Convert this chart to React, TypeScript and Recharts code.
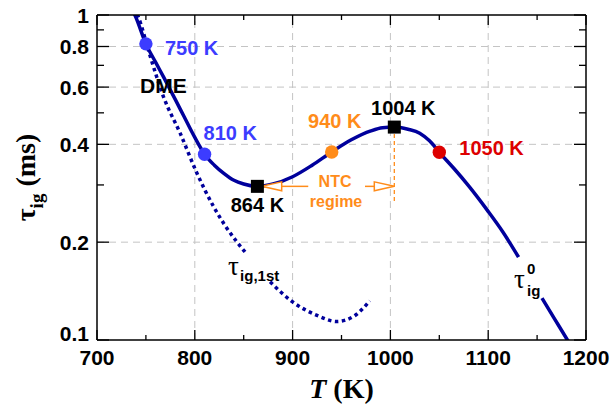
import React from 'react';
import {
  ComposedChart,
  Line,
  XAxis,
  YAxis,
  ReferenceDot,
  ReferenceLine,
} from 'recharts';

// ---------- data ----------
const mainUpperT = [735, 740, 750, 760, 768, 780, 789, 800, 810, 820, 830, 840, 850, 864, 880, 900, 920, 940, 960, 980, 992, 1004, 1018, 1030, 1040, 1050, 1065, 1080, 1099, 1115, 1131];
const mainUpperTau = [1.06, 0.98, 0.815, 0.715, 0.645, 0.55, 0.487, 0.42, 0.373, 0.345, 0.325, 0.31, 0.302, 0.297, 0.302, 0.318, 0.345, 0.379, 0.413, 0.44, 0.45, 0.452, 0.445, 0.433, 0.41, 0.378, 0.337, 0.298, 0.251, 0.215, 0.18];
const mainLowerT = [1155, 1168, 1181, 1186];
const mainLowerTau = [0.1346, 0.116, 0.1, 0.0945];

const firstUpperT = [738, 742, 754.5, 768, 785, 802, 819, 831, 853];
const firstUpperTau = [1.05, 0.99, 0.745, 0.56, 0.433, 0.327, 0.258, 0.225, 0.184];
const firstLowerT = [877, 900, 925, 945, 962, 979];
const firstLowerTau = [0.151, 0.131, 0.119, 0.114, 0.118, 0.132];

const markerT = [750, 810, 864, 940, 1004, 1050];
const markerTau = [0.815, 0.373, 0.297, 0.379, 0.452, 0.378];
const markerLabels = ['750 K', '810 K', '864 K', '940 K', '1004 K', '1050 K'];

const xTicks = [700, 750, 800, 850, 900, 950, 1000, 1050, 1100, 1150, 1200];
const xMajor = [700, 800, 900, 1000, 1100, 1200];
const yTicks = [0.1, 0.2, 0.3, 0.4, 0.5, 0.6, 0.7, 0.8, 0.9, 1];
const yLabels = [0.1, 0.2, 0.4, 0.6, 0.8, 1];
const gridX = [800, 900, 1000, 1100];
const gridY = [0.2, 0.4, 0.6, 0.8];

// NTC regime arrows (temperature range) at tau of the 864 K minimum
const ntcLeftArrowT = [916, 868.4];
const ntcRightArrowT = [974, 1004];
const ntcArrowTau = 0.297;
const ntcDropT = 1004;
const ntcDropTau = [0.452, 0.266];

// free text anchors [T, tau]
const dmeAnchor = [744, 0.575];
const ntcAnchor = [943.4, 0.296];
const regimeAnchor = [944.4, 0.2565];
const tauFirstAnchor = [834, 0.158];
const tauZeroAnchor = [1126.4, 0.1445];

// ---------- styles ----------
const SANS = '"Liberation Sans", Arial, Helvetica, sans-serif';
const SERIF = '"Liberation Serif", "Times New Roman", serif';
const NAVY = '#00009c';
const BLUE = '#3c3cff';
const ORANGE = '#ff8c1a';
const RED = '#dd0000';
const GRID = '#c4c4c4';

const markerColor = [BLUE, BLUE, '#000', ORANGE, '#000', RED];
const markerIsSquare = [false, false, true, false, true, false];
const labelColor = [BLUE, BLUE, '#000', ORANGE, '#000', RED];
const labelOffset: [number, number, 'start' | 'middle' | 'end'][] = [
  [19, 11, 'start'],
  [-1, -14, 'start'],
  [0, 26, 'middle'],
  [3, -24, 'middle'],
  [9, -12, 'middle'],
  [20, 3, 'start'],
];

const rows = (ts: number[], vs: number[]) => ts.map((T, i) => ({ T, tau: vs[i] }));
const mainUpperRows = rows(mainUpperT, mainUpperTau);

// ---------- ticks ----------
const XTickBottom = (p: any) => {
  const { x, y, payload } = p;
  const v = payload.value;
  const major = xMajor.includes(v);
  return (
    <g>
      <path d={`M${x},${y}V${y - (major ? 10 : 5)}`} stroke="#000" strokeWidth={1.3} fill="none" />
      {major && (
        <text x={x} y={y + 25} textAnchor="middle" fontFamily={SANS} fontWeight="bold" fontSize={21} fill="#000">
          {v}
        </text>
      )}
    </g>
  );
};

const XTickTop = (p: any) => {
  const { x, y, payload } = p;
  const major = xMajor.includes(payload.value);
  return <path d={`M${x},${y}V${y + (major ? 10 : 5)}`} stroke="#000" strokeWidth={1.3} fill="none" />;
};

const YTickLeft = (p: any) => {
  const { x, y, payload } = p;
  const v = payload.value;
  const major = yLabels.includes(v);
  const shift = v === 0.1 ? -7 : 0;
  return (
    <g>
      <path d={`M${x},${y}H${x + (major ? 12 : 7)}`} stroke="#000" strokeWidth={1.3} fill="none" />
      {major && (
        <text x={x - 8} y={y + 7.5 + shift} textAnchor="end" fontFamily={SANS} fontWeight="bold" fontSize={21} fill="#000">
          {v}
        </text>
      )}
    </g>
  );
};

const YTickRight = (p: any) => {
  const { x, y, payload } = p;
  const major = yLabels.includes(payload.value);
  return <path d={`M${x},${y}H${x - (major ? 12 : 7)}`} stroke="#000" strokeWidth={1.3} fill="none" />;
};

// ---------- titles ----------
const XTitle = (p: any) => {
  const vb = p.viewBox || {};
  const cx = vb.x + vb.width / 2;
  const y = vb.y + 58;
  return (
    <text x={cx} y={y} textAnchor="middle" fontFamily={SERIF} fontWeight="bold" fontSize={28} fill="#000">
      <tspan fontStyle="italic">T</tspan>
      <tspan> (K)</tspan>
    </text>
  );
};

const YTitle = (p: any) => {
  const vb = p.viewBox || {};
  const cx = vb.x + 35;
  const cy = vb.y + vb.height / 2;
  return (
    <text transform={`rotate(-90 ${cx} ${cy})`} x={cx} y={cy} textAnchor="middle" fontFamily={SERIF} fontWeight="bold" fontSize={28} fill="#000">
      <tspan>τ</tspan>
      <tspan fontSize={19} dy={8}>ig</tspan>
      <tspan dy={-8}> (ms)</tspan>
    </text>
  );
};

// ---------- annotation helpers ----------
const center = (p: any) => {
  const vb = p.viewBox || {};
  return [vb.x + (vb.width || 0) / 2, vb.y + (vb.height || 0) / 2];
};

const makeMarkerLabel = (i: number) => (p: any) => {
  const [cx, cy] = center(p);
  const [dx, dy, anchor] = labelOffset[i];
  return (
    <text x={cx + dx} y={cy + dy} textAnchor={anchor} fontFamily={SANS} fontWeight="bold" fontSize={20} fill={labelColor[i]}>
      {markerLabels[i]}
    </text>
  );
};

const textLabel = (txt: string, color: string, size: number, anchor: 'start' | 'middle') => (p: any) => {
  const [cx, cy] = center(p);
  return (
    <text x={cx} y={cy} textAnchor={anchor} fontFamily={SANS} fontWeight="bold" fontSize={size} fill={color}>
      {txt}
    </text>
  );
};

const TauFirstLabel = (p: any) => {
  const [cx, cy] = center(p);
  return (
    <text x={cx} y={cy} fontFamily={SERIF} fontSize={27} fill="#000">
      <tspan>τ</tspan>
      <tspan x={cx + 12} y={cy + 6} fontFamily={SANS} fontWeight="bold" fontSize={15}>ig,1st</tspan>
    </text>
  );
};

const TauZeroLabel = (p: any) => {
  const [cx, cy] = center(p);
  return (
    <text x={cx} y={cy} fontFamily={SERIF} fontSize={27} fill="#000">
      <tspan>τ</tspan>
      <tspan x={cx + 13} y={cy - 14} fontFamily={SANS} fontWeight="bold" fontSize={15}>0</tspan>
      <tspan x={cx + 13} y={cy + 8} fontFamily={SANS} fontWeight="bold" fontSize={15}>ig</tspan>
    </text>
  );
};

const SquareShape = (p: any) => (
  <rect x={p.cx - 6.5} y={p.cy - 6.5} width={13} height={13} fill="#000" />
);

const ArrowShape = (p: any) => {
  const { x1, y1, x2, y2 } = p;
  const dir = Math.sign(x2 - x1) || 1;
  const L = 20;
  const H = 4.5;
  const bx = x2 - dir * L;
  return (
    <g>
      <line x1={x1} y1={y1} x2={bx} y2={y2} stroke={ORANGE} strokeWidth={1.5} />
      <polygon points={`${x2},${y2} ${bx},${y2 - H} ${bx},${y2 + H}`} fill="#fff" stroke={ORANGE} strokeWidth={1.5} />
    </g>
  );
};

export default function App() {
  return (
    <div style={{ position: 'absolute', left: 0, top: 0 }}>
      <ComposedChart width={611} height={412} data={mainUpperRows} margin={{ top: 14, right: 24, left: 0, bottom: 0 }}>
        <XAxis
          dataKey="T"
          type="number"
          domain={[700, 1200]}
          allowDataOverflow
          ticks={xTicks}
          interval={0}
          tickSize={0}
          tickMargin={0}
          tickLine={false}
          tick={XTickBottom}
          height={72}
          axisLine={{ stroke: '#000', strokeWidth: 1.5 }}
          label={XTitle}
        />
        <XAxis
          xAxisId="top"
          orientation="top"
          dataKey="T"
          type="number"
          domain={[700, 1200]}
          allowDataOverflow
          ticks={xTicks}
          interval={0}
          tickSize={0}
          tickMargin={0}
          tickLine={false}
          tick={XTickTop}
          height={1}
          axisLine={{ stroke: '#000', strokeWidth: 1.5 }}
        />
        <YAxis
          dataKey="tau"
          type="number"
          scale="log"
          domain={[0.1, 1]}
          allowDataOverflow
          ticks={yTicks}
          interval={0}
          tickSize={0}
          tickMargin={0}
          tickLine={false}
          tick={YTickLeft}
          width={97}
          axisLine={{ stroke: '#000', strokeWidth: 1.5 }}
          label={YTitle}
        />
        <YAxis
          yAxisId="right"
          orientation="right"
          dataKey="tau"
          type="number"
          scale="log"
          domain={[0.1, 1]}
          allowDataOverflow
          ticks={yTicks}
          interval={0}
          tickSize={0}
          tickMargin={0}
          tickLine={false}
          tick={YTickRight}
          width={1}
          axisLine={{ stroke: '#000', strokeWidth: 1.5 }}
        />

        {gridX.map((v) => (
          <ReferenceLine key={`gx${v}`} x={v} stroke={GRID} strokeWidth={1} strokeDasharray="7 5" />
        ))}
        {gridY.map((v) => (
          <ReferenceLine key={`gy${v}`} y={v} stroke={GRID} strokeWidth={1} strokeDasharray="7 5" />
        ))}

        {/* invisible series binding the mirrored top/right axes */}
        <Line
          xAxisId="top"
          yAxisId="right"
          dataKey="tau"
          stroke="none"
          strokeWidth={0}
          dot={false}
          activeDot={false}
          legendType="none"
          isAnimationActive={false}
        />

        <Line data={rows(firstUpperT, firstUpperTau)} dataKey="tau" type="monotone" stroke={NAVY} strokeWidth={3.5} strokeDasharray="3.5 3.5" dot={false} activeDot={false} isAnimationActive={false} />
        <Line data={rows(firstLowerT, firstLowerTau)} dataKey="tau" type="monotone" stroke={NAVY} strokeWidth={3.5} strokeDasharray="3.5 3.5" dot={false} activeDot={false} isAnimationActive={false} />
        <Line dataKey="tau" type="monotone" stroke={NAVY} strokeWidth={3.5} dot={false} activeDot={false} isAnimationActive={false} />
        <Line data={rows(mainLowerT, mainLowerTau)} dataKey="tau" type="monotone" stroke={NAVY} strokeWidth={3.5} dot={false} activeDot={false} isAnimationActive={false} />

        <ReferenceLine
          segment={[{ x: ntcDropT, y: ntcDropTau[0] }, { x: ntcDropT, y: ntcDropTau[1] }]}
          stroke={ORANGE}
          strokeWidth={1.3}
          strokeDasharray="4 3"
        />
        <ReferenceLine
          segment={[{ x: ntcLeftArrowT[0], y: ntcArrowTau }, { x: ntcLeftArrowT[1], y: ntcArrowTau }]}
          shape={ArrowShape}
        />
        <ReferenceLine
          segment={[{ x: ntcRightArrowT[0], y: ntcArrowTau }, { x: ntcRightArrowT[1], y: ntcArrowTau }]}
          shape={ArrowShape}
        />

        {markerT.map((T, i) => (
          <ReferenceDot
            key={`m${i}`}
            x={T}
            y={markerTau[i]}
            r={6.7}
            fill={markerColor[i]}
            stroke="none"
            shape={markerIsSquare[i] ? SquareShape : undefined}
            label={makeMarkerLabel(i)}
          />
        ))}

        <ReferenceDot x={dmeAnchor[0]} y={dmeAnchor[1]} r={0} stroke="none" fill="none" label={textLabel('DME', '#000', 21, 'start')} />
        <ReferenceDot x={ntcAnchor[0]} y={ntcAnchor[1]} r={0} stroke="none" fill="none" label={textLabel('NTC', ORANGE, 16, 'middle')} />
        <ReferenceDot x={regimeAnchor[0]} y={regimeAnchor[1]} r={0} stroke="none" fill="none" label={textLabel('regime', ORANGE, 16, 'middle')} />
        <ReferenceDot x={tauFirstAnchor[0]} y={tauFirstAnchor[1]} r={0} stroke="none" fill="none" label={TauFirstLabel} />
        <ReferenceDot x={tauZeroAnchor[0]} y={tauZeroAnchor[1]} r={0} stroke="none" fill="none" label={TauZeroLabel} />
      </ComposedChart>
    </div>
  );
}
